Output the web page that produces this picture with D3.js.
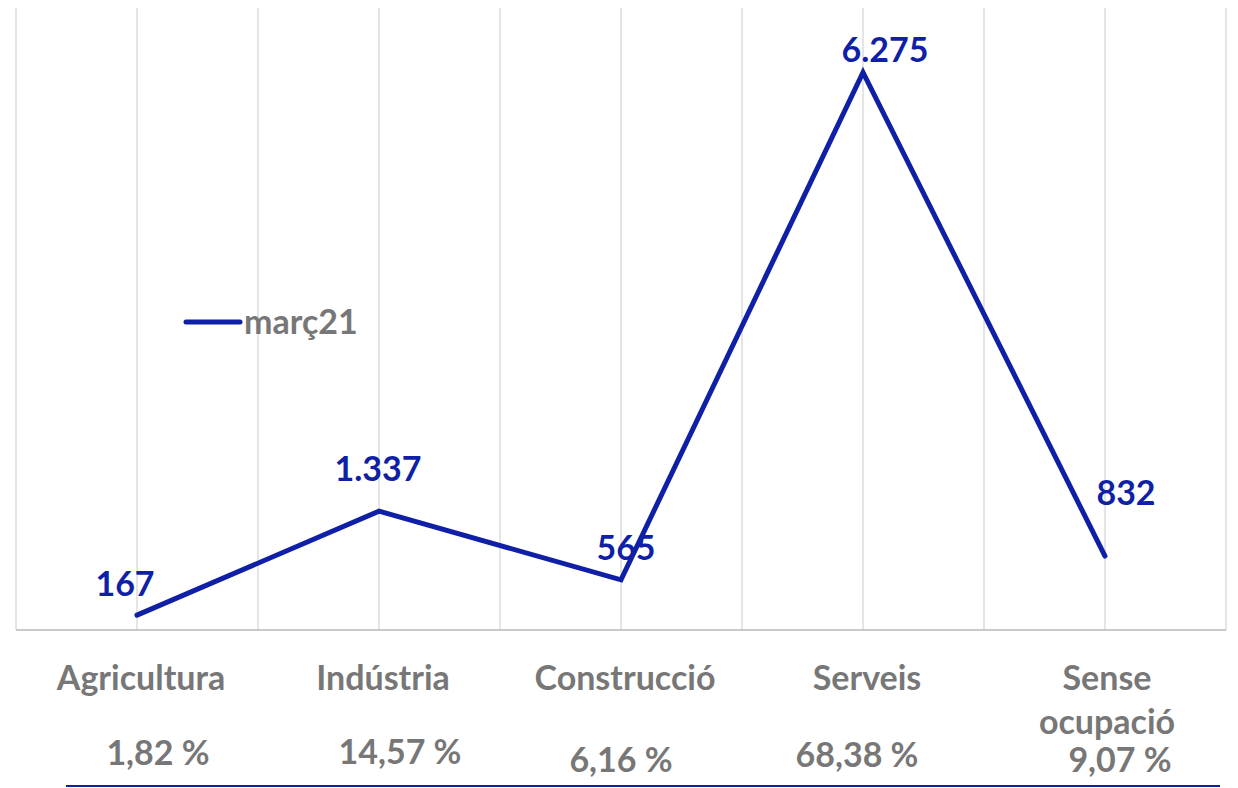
<!DOCTYPE html>
<html>
<head>
<meta charset="utf-8">
<script src="https://cdn.jsdelivr.net/npm/d3@7"></script>
<style>
  body { margin: 0; background: #fff; }
  svg { display: block; font-family: Lato, "Open Sans", sans-serif; font-weight: bold; }
</style>
</head>
<body>
<svg id="chart" width="1238" height="788"></svg>
<script>
const categories = ['Agricultura', 'Indústria', 'Construcció', 'Serveis', 'Sense ocupació'];
const values = [167, 1337, 565, 6275, 832];
const valueLabels = ['167', '1.337', '565', '6.275', '832'];
const shares = ['1,82 %', '14,57 %', '6,16 %', '68,38 %', '9,07 %'];
const seriesName = 'març21';

const BLUE = '#0f1fa6', GREY = '#777777';
const FS = 34;
const svg = d3.select('#chart');
const plotL = 16, plotR = 1226, plotT = 8, plotB = 630;

const x = d3.scaleBand().domain(categories).range([plotL, plotR]);
const y = d3.scaleLinear().domain([0, 7000]).range([plotB, plotT]);
const cx = c => x(c) + x.bandwidth() / 2;

// gridlines at band edges and centres
const grid = [];
categories.forEach(c => { grid.push(x(c)); grid.push(cx(c)); });
grid.push(plotR);
svg.append('g').selectAll('line').data(grid).join('line')
  .attr('x1', d => d).attr('x2', d => d)
  .attr('y1', plotT).attr('y2', plotB)
  .attr('stroke', '#d4d4d4').attr('stroke-width', 1.2);

svg.append('line')
  .attr('x1', plotL).attr('x2', plotR).attr('y1', plotB).attr('y2', plotB)
  .attr('stroke', '#b8b8b8').attr('stroke-width', 1.5);

const line = d3.line().x((d, i) => cx(categories[i])).y(d => y(d));
svg.append('path').datum(values)
  .attr('d', line)
  .attr('fill', 'none').attr('stroke', BLUE)
  .attr('stroke-width', 5).attr('stroke-linecap', 'round').attr('stroke-linejoin', 'miter');

// data labels (hand placed in the original)
const labDx = [-12, -1, 5, 22, 21];
const labDy = [-19, -30, -20, -10, -51];
svg.append('g').selectAll('text').data(values).join('text')
  .attr('x', (d, i) => cx(categories[i]) + labDx[i])
  .attr('y', (d, i) => y(d) + labDy[i])
  .attr('text-anchor', 'middle')
  .attr('font-size', FS).attr('fill', BLUE)
  .text((d, i) => valueLabels[i]);

// category labels
const cat = svg.append('g').attr('fill', GREY).attr('font-size', FS).attr('text-anchor', 'middle');
categories.forEach((c, i) => {
  const words = c === 'Sense ocupació' ? ['Sense', 'ocupació'] : [c];
  const tx = cx(c) + (words.length > 1 ? 2 : 4);
  const t = cat.append('text').attr('x', tx).attr('y', 690);
  words.forEach((w, j) => t.append('tspan').attr('x', tx).attr('dy', j ? 44 : 0).text(w));
});

// share labels
const shDx = [21, 21, 0, -6, 15];
const shY = [765, 764, 772, 767, 772];
svg.append('g').selectAll('text').data(shares).join('text')
  .attr('x', (d, i) => cx(categories[i]) + shDx[i])
  .attr('y', (d, i) => shY[i])
  .attr('text-anchor', 'middle').attr('font-size', FS).attr('fill', GREY)
  .text(d => d);

// legend
const lg = svg.append('g').attr('transform', 'translate(186,322)');
lg.append('line').attr('x1', 0).attr('x2', 54)
  .attr('stroke', BLUE).attr('stroke-width', 5).attr('stroke-linecap', 'round');
lg.append('text').attr('x', 58).attr('y', 12)
  .attr('font-size', FS).attr('fill', GREY).text(seriesName);

// bottom rule
svg.append('line').attr('x1', 66).attr('x2', 1220).attr('y1', 786).attr('y2', 786)
  .attr('stroke', BLUE).attr('stroke-width', 2);
</script>
</body>
</html>
